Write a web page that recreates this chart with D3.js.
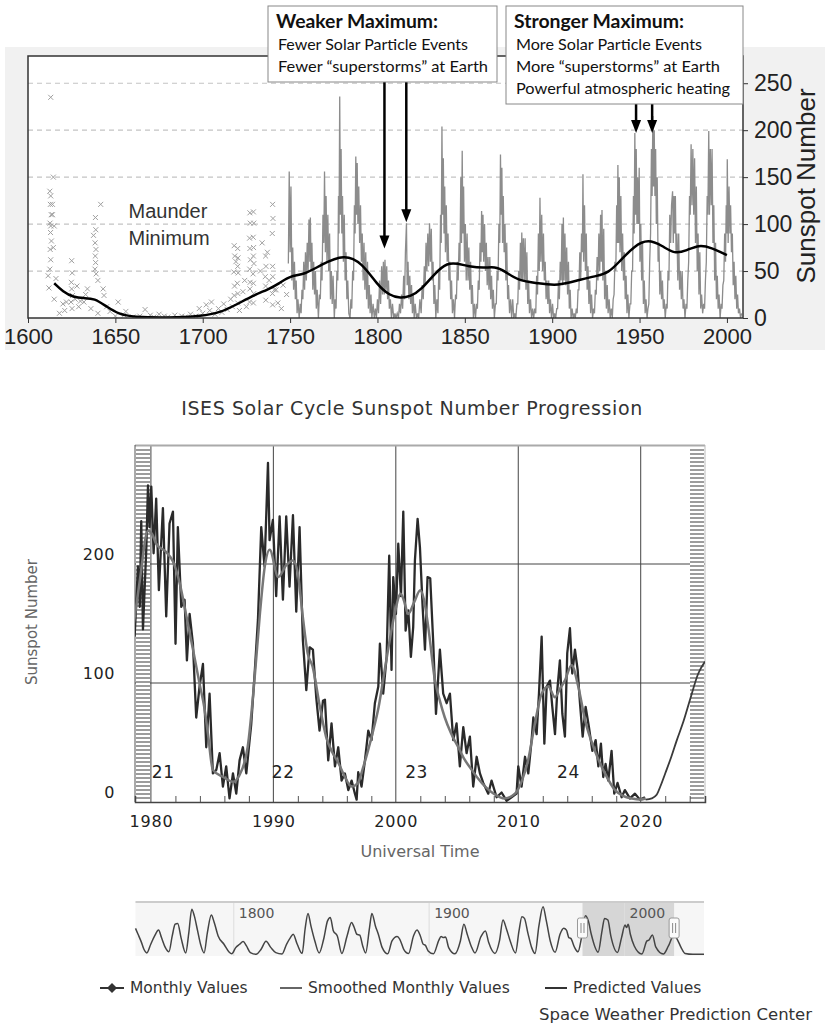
<!DOCTYPE html>
<html>
<head>
<meta charset="utf-8">
<script src="https://cdn.jsdelivr.net/npm/d3@7"></script>
<style>
body { margin: 0; background: #fff; }
svg { display: block; }
</style>
</head>
<body>
<svg id="chart" width="825" height="1028"></svg>
<script>
// ---- top chart (1600-2008) ----
var topXTicks = [1600, 1650, 1700, 1750, 1800, 1850, 1900, 1950, 2000];
var topYTicks = [0, 50, 100, 150, 200, 250];

var earlyCrosses = [
	[1613,235],[1614.5,150],[1612.5,135],[1613,130],[1612.8,121],[1613.3,110],[1612.6,101],[1613,98],[1612.9,91],[1613.4,82],
	[1612.7,73],[1613,62],[1612.5,52],[1614.5,75],[1614,121],[1616,42],[1612,32],[1611.5,45],[1615,20],[1618,5],[1614,110],[1615,98],
	[1625,61],[1625.3,48],[1624.8,38],[1625,31],[1625.5,24],[1624.6,17],[1625.2,10],[1628,34],[1634,31],[1627,20],[1630,18],
	[1622,17],[1620,15],[1632,17],[1633,25],[1629,12],[1621,8],[1636,10],[1640,5],
	[1638.6,107],[1638.8,94],[1638.4,80],[1638.9,73],[1638.5,66],[1638.7,59],[1638.3,52],[1639,47],[1641.6,121],[1643,31],
	[1643.5,24],[1640,40],[1637.5,88],[1651.6,17],[1647,7],[1645,12],
	[1650,2],[1655,3],[1656,7],[1660,1],[1664,2],[1667,9],[1670,3],[1672,1],[1675,4],[1678,2],[1680,1],[1684,3],[1688,2],
	[1690,1],[1693,4],[1696,2],[1698,10],[1700,5],[1702,14],[1704,8],[1705,17],[1707,4],[1709,10],[1711,6],[1712,15],[1714,9],
	[1718,77],[1718.3,66],[1717.8,49],[1718.2,34],[1718,24],[1719,60],[1716,20],[1717,12],[1720,74],[1720.2,64],[1720,55],
	[1720.3,48],[1719.8,37],[1720.1,26],[1720,16],[1721,8],
	[1727,112],[1727.2,101],[1726.8,85],[1727,74],[1727.3,62],[1726.9,52],[1727.1,38],[1727,31],[1726.8,17],[1729,113],
	[1729.2,101],[1728.9,86],[1729.1,75],[1729,66],[1729.3,58],[1728.8,47],[1729,37],[1729.2,26],[1729,16],[1724,40],[1723,28],[1725,12],
	[1736,66],[1736.2,55],[1735.8,44],[1736,34],[1736.1,19],[1734,80],[1740,121],[1740.2,106],[1739.8,90],[1740,55],[1740.1,44],
	[1739.9,26],[1740,14],[1742,30],[1743,16],[1745,10],[1733,50],[1738,40],[1746,35],[1748,25],[1737,70],[1741,30]
];

var monthlyTop = [
	[1749.0,58],[1749.5,156],[1750.0,70],[1750.5,140],[1751.0,40],[1751.5,75],[1752.0,30],[1752.5,60],[1753.0,20],[1753.5,40],
	[1754.0,5],[1754.5,20],[1755.2,0],[1755.8,15],[1756.3,5],[1756.8,30],[1757.3,20],[1757.8,60],[1758.3,30],[1758.8,70],
	[1759.3,40],[1759.8,80],[1760.3,50],[1760.8,105],[1761.3,60],[1761.6,107],[1762.0,50],[1762.5,80],[1763.0,30],[1763.5,60],
	[1764.0,25],[1764.5,50],[1765.0,10],[1765.5,30],[1766.2,0],[1766.8,25],[1767.3,20],[1767.8,60],[1768.3,40],[1768.8,110],
	[1769.3,80],[1769.7,156],[1770.2,70],[1770.6,130],[1771.1,60],[1771.6,110],[1772.1,50],[1772.6,90],[1773.1,20],[1773.6,50],
	[1774.1,15],[1774.6,45],[1775.3,0],[1775.8,20],[1776.3,10],[1776.8,50],[1777.3,40],[1777.7,130],[1778.0,90],[1778.4,236],
	[1778.8,110],[1779.2,180],[1779.6,90],[1780.0,130],[1780.5,60],[1781.0,110],[1781.5,40],[1782.0,70],[1782.5,20],[1783.0,40],
	[1783.6,5],[1784.3,0],[1784.8,20],[1785.3,10],[1785.8,50],[1786.3,40],[1786.8,120],[1787.2,90],[1787.6,172],[1788.0,110],
	[1788.4,165],[1788.8,100],[1789.3,140],[1789.8,80],[1790.3,120],[1790.8,60],[1791.3,90],[1791.8,40],[1792.3,80],[1792.8,30],
	[1793.3,70],[1793.8,20],[1794.3,60],[1794.8,10],[1795.3,35],[1795.8,5],[1796.3,25],[1796.8,0],[1797.5,15],[1798.2,0],
	[1798.8,10],[1799.4,0],[1800.0,20],[1800.6,5],[1801.2,40],[1801.8,15],[1802.4,55],[1802.9,25],[1803.4,60],[1803.9,25],
	[1804.3,62],[1804.8,30],[1805.3,55],[1805.8,20],[1806.3,40],[1806.8,10],[1807.4,20],[1808.0,0],[1808.6,15],[1809.3,0],
	[1810.0,5],[1810.6,0],[1811.3,5],[1812.0,0],[1812.6,15],[1813.2,5],[1813.8,25],[1814.4,10],[1815.0,45],[1815.5,20],
	[1816.0,70],[1816.6,101],[1817.0,35],[1817.5,60],[1818.0,20],[1818.5,45],[1819.0,15],[1819.5,35],[1820.0,5],[1820.5,25],
	[1821.0,0],[1821.6,15],[1822.3,0],[1823.0,5],[1823.6,0],[1824.3,20],[1825.0,5],[1825.6,35],[1826.2,20],[1826.8,55],
	[1827.3,35],[1827.8,80],[1828.3,50],[1828.8,90],[1829.3,55],[1829.8,101],[1830.3,60],[1830.8,95],[1831.3,40],[1831.8,60],
	[1832.3,15],[1832.8,35],[1833.4,0],[1834.0,20],[1834.6,5],[1835.1,50],[1835.6,30],[1836.1,110],[1836.5,80],[1836.9,204],
	[1837.3,110],[1837.7,170],[1838.1,90],[1838.5,140],[1838.9,70],[1839.4,120],[1839.9,60],[1840.4,90],[1840.9,40],[1841.4,60],
	[1841.9,20],[1842.4,40],[1842.9,5],[1843.5,20],[1844.1,0],[1844.7,25],[1845.2,20],[1845.7,60],[1846.2,40],[1846.7,80],
	[1847.2,60],[1847.7,150],[1848.1,80],[1848.5,178],[1848.9,90],[1849.3,140],[1849.8,60],[1850.3,100],[1850.8,40],[1851.3,90],
	[1851.8,40],[1852.3,75],[1852.8,30],[1853.3,60],[1853.8,15],[1854.3,35],[1854.9,0],[1855.5,15],[1856.1,0],[1856.7,15],
	[1857.2,10],[1857.7,40],[1858.2,30],[1858.7,80],[1859.2,60],[1859.6,114],[1860.0,70],[1860.4,110],[1860.8,60],[1861.3,100],
	[1861.8,50],[1862.3,80],[1862.8,35],[1863.3,65],[1863.8,30],[1864.3,65],[1864.8,20],[1865.3,45],[1865.8,10],[1866.3,30],
	[1866.9,0],[1867.5,15],[1868.0,15],[1868.5,50],[1869.0,40],[1869.5,100],[1870.0,80],[1870.4,174],[1870.8,110],[1871.2,160],
	[1871.6,80],[1872.0,130],[1872.5,70],[1873.0,100],[1873.5,40],[1874.0,80],[1874.5,20],[1875.0,35],[1875.6,5],[1876.2,20],
	[1876.8,0],[1877.4,20],[1878.0,0],[1878.6,5],[1879.2,0],[1879.8,15],[1880.3,15],[1880.8,50],[1881.3,30],[1881.8,80],
	[1882.3,40],[1882.6,91],[1883.0,40],[1883.5,85],[1884.0,40],[1884.5,85],[1885.0,30],[1885.5,70],[1886.0,15],[1886.5,40],
	[1887.0,5],[1887.6,20],[1888.2,0],[1888.8,10],[1889.4,0],[1890.0,10],[1890.6,5],[1891.1,45],[1891.6,25],[1892.1,90],
	[1892.6,50],[1893.0,128],[1893.5,60],[1894.0,110],[1894.5,50],[1895.0,90],[1895.5,40],[1896.0,60],[1896.5,20],[1897.0,40],
	[1897.5,15],[1898.0,40],[1898.5,5],[1899.0,20],[1899.6,0],[1900.2,15],[1900.8,0],[1901.4,5],[1902.0,0],[1902.6,10],
	[1903.1,10],[1903.6,40],[1904.1,20],[1904.6,60],[1905.1,40],[1905.6,100],[1906.0,35],[1906.4,107],[1906.8,40],[1907.3,90],
	[1907.8,35],[1908.3,75],[1908.8,25],[1909.3,60],[1909.8,10],[1910.3,30],[1910.8,0],[1911.4,10],[1912.0,0],[1912.6,5],
	[1913.2,0],[1913.8,10],[1914.3,5],[1914.8,30],[1915.3,30],[1915.8,70],[1916.3,40],[1916.8,90],[1917.3,70],[1917.6,153],
	[1918.0,60],[1918.5,120],[1919.0,50],[1919.5,90],[1920.0,30],[1920.5,55],[1921.0,15],[1921.5,40],[1922.0,5],[1922.5,25],
	[1923.1,0],[1923.7,10],[1924.2,5],[1924.7,30],[1925.2,25],[1925.7,65],[1926.2,40],[1926.7,90],[1927.2,50],[1927.7,110],
	[1928.1,60],[1928.5,115],[1929.0,40],[1929.5,95],[1930.0,20],[1930.5,50],[1931.0,10],[1931.5,35],[1932.0,5],[1932.6,20],
	[1933.2,0],[1933.8,10],[1934.4,0],[1934.9,20],[1935.4,25],[1935.9,60],[1936.4,50],[1936.9,120],[1937.3,80],[1937.6,163],
	[1938.0,80],[1938.4,150],[1938.8,70],[1939.3,130],[1939.8,50],[1940.3,90],[1940.8,40],[1941.3,70],[1941.8,20],[1942.3,45],
	[1942.8,5],[1943.3,25],[1943.9,0],[1944.5,15],[1945.0,15],[1945.5,50],[1946.0,50],[1946.5,130],[1946.9,90],[1947.3,197],
	[1947.7,110],[1948.1,180],[1948.5,100],[1948.9,150],[1949.3,100],[1949.8,160],[1950.2,60],[1950.7,100],[1951.2,40],[1951.7,80],
	[1952.2,15],[1952.7,40],[1953.2,5],[1953.7,20],[1954.3,0],[1954.8,10],[1955.3,15],[1955.8,60],[1956.3,90],[1956.8,180],
	[1957.2,130],[1957.6,215],[1958.0,140],[1958.4,200],[1958.8,130],[1959.2,180],[1959.6,100],[1960.1,150],[1960.6,60],[1961.1,80],
	[1961.6,25],[1962.1,50],[1962.6,20],[1963.1,40],[1963.6,10],[1964.1,20],[1964.7,0],[1965.3,15],[1965.8,10],[1966.3,50],
	[1966.8,40],[1967.3,110],[1967.8,80],[1968.3,120],[1968.9,135],[1969.3,80],[1969.7,130],[1970.1,90],[1970.5,130],[1970.9,70],
	[1971.4,90],[1971.9,40],[1972.4,90],[1972.9,30],[1973.4,50],[1973.9,20],[1974.4,50],[1974.9,10],[1975.4,20],[1976.0,0],
	[1976.6,15],[1977.1,10],[1977.6,40],[1978.1,60],[1978.6,130],[1979.0,110],[1979.5,185],[1980.0,120],[1980.5,180],[1981.0,110],
	[1981.5,170],[1982.0,80],[1982.5,140],[1983.0,50],[1983.5,90],[1984.0,25],[1984.5,70],[1985.0,10],[1985.5,25],[1986.1,5],
	[1986.7,15],[1987.2,10],[1987.7,40],[1988.2,60],[1988.7,130],[1989.1,110],[1989.6,199],[1990.0,110],[1990.5,180],[1991.0,120],
	[1991.5,180],[1992.0,80],[1992.5,120],[1993.0,40],[1993.5,80],[1994.0,20],[1994.5,45],[1995.0,10],[1995.5,25],[1996.1,0],
	[1996.7,15],[1997.2,10],[1997.7,35],[1998.2,40],[1998.7,90],[1999.2,60],[1999.6,120],[2000.0,90],[2000.2,169],[2000.7,80],
	[2001.2,140],[2001.7,90],[2002.1,120],[2002.6,70],[2003.1,90],[2003.6,35],[2004.1,60],[2004.6,20],[2005.1,45],[2005.6,10],
	[2006.1,25],[2006.6,5],[2007.2,10],[2007.8,0],[2008.4,5]
];

var smoothTop = [
	[1615,37],[1620,28],[1626,22],[1632,21],[1638,21],[1645,12],[1652,4],[1660,1],[1680,0],[1700,2],[1710,6],[1718,13],
	[1730,25],[1737,30],[1744,37],[1750,45],[1758,46],[1768,57],[1781,68],[1791,59],[1800,35],[1807,24],[1813,21],[1819,23],
	[1825,30],[1833,48],[1840,59],[1846,58],[1852,55],[1861,53],[1867,55],[1873,50],[1880,40],[1892,37],[1903,34],[1916,41],
	[1926,45],[1932,48],[1938,59],[1947,77],[1955,84],[1963,77],[1970,68],[1977,72],[1984,78],[1991,75],[2000,67]
];

var weakerLines = ["Weaker Maximum:", "Fewer Solar Particle Events", "Fewer \u201csuperstorms\u201d at Earth"];
var strongerLines = ["Stronger Maximum:", "More Solar Particle Events", "More \u201csuperstorms\u201d at Earth", "Powerful atmospheric heating"];
var weakerArrows = [[1804, 74], [1816.5, 102]];
var strongerArrows = [[1948, 197], [1957.2, 197]];

// ---- bottom chart (ISES progression) ----
var bottomXTicks = [1980, 1990, 2000, 2010, 2020];
var bottomMinorTicks = [1982, 1984, 1986, 1988, 1992, 1994, 1996, 1998, 2002, 2004, 2006, 2008, 2012, 2014, 2016, 2018, 2022, 2024];
var bottomYTicks = [0, 100, 200];

var monthlyValues = [
	[1978.67,139],[1978.94,198],[1979.09,164],[1979.21,236],[1979.35,145],[1979.62,212],[1979.76,266],[1979.89,231],[1980.03,265],
	[1980.22,209],[1980.43,255],[1980.65,178],[1980.98,247],[1981.25,156],[1981.52,234],[1981.80,244],[1982.01,133],[1982.20,231],
	[1982.48,164],[1982.75,170],[1982.94,119],[1983.16,158],[1983.43,133],[1983.70,71],[1983.97,97],[1984.25,116],[1984.52,46],
	[1984.79,91],[1985.06,24],[1985.34,27],[1985.61,41],[1985.88,13],[1986.15,30],[1986.42,3],[1986.70,24],[1986.97,7],
	[1987.24,35],[1987.51,46],[1987.79,24],[1988.06,52],[1988.19,65],[1988.47,108],[1988.74,153],[1989.01,231],[1989.28,198],
	[1989.56,285],[1989.69,220],[1989.96,237],[1990.23,173],[1990.51,240],[1990.78,170],[1991.05,240],[1991.32,181],[1991.60,241],
	[1991.87,160],[1992.14,231],[1992.41,136],[1992.69,94],[1992.96,130],[1993.23,128],[1993.50,88],[1993.77,60],[1994.05,85],
	[1994.21,86],[1994.48,35],[1994.75,66],[1995.03,30],[1995.30,46],[1995.57,18],[1995.84,24],[1996.12,10],[1996.39,18],
	[1996.66,7],[1996.80,2],[1996.93,25],[1997.20,13],[1997.48,35],[1997.75,60],[1998.02,52],[1998.29,83],[1998.57,97],
	[1998.70,133],[1998.97,91],[1999.25,122],[1999.46,207],[1999.65,111],[1999.79,189],[2000.01,158],[2000.20,217],[2000.42,173],
	[2000.61,244],[2000.80,144],[2001.02,161],[2001.23,122],[2001.42,147],[2001.56,203],[2001.78,238],[2001.97,214],[2002.19,164],
	[2002.38,128],[2002.59,189],[2002.81,188],[2003.06,133],[2003.28,74],[2003.60,128],[2003.87,91],[2004.15,83],[2004.42,91],
	[2004.69,52],[2004.96,66],[2005.23,30],[2005.51,63],[2005.78,41],[2006.05,55],[2006.32,13],[2006.60,38],[2006.87,24],
	[2007.14,16],[2007.55,7],[2007.82,18],[2008.23,4],[2008.64,8],[2009.05,1],[2009.45,4],[2009.86,7],
	[2010.00,30],[2010.27,13],[2010.55,38],[2010.82,24],[2011.09,52],[2011.23,71],[2011.50,57],[2011.69,91],[2011.91,139],
	[2012.13,49],[2012.32,97],[2012.59,102],[2012.78,80],[2013.00,57],[2013.19,94],[2013.40,119],[2013.60,74],[2013.81,55],
	[2014.00,125],[2014.22,146],[2014.41,108],[2014.63,128],[2014.85,111],[2015.04,83],[2015.26,55],[2015.50,80],[2015.77,63],
	[2016.05,43],[2016.32,52],[2016.54,30],[2016.75,49],[2016.94,21],[2017.13,32],[2017.35,18],[2017.62,43],[2017.84,7],
	[2018.11,16],[2018.44,4],[2018.71,10],[2019.12,3],[2019.53,7],[2019.94,2],[2020.35,4]
];

var smoothedValues = [
	[1978.6,150],[1979.09,186],[1979.76,228],[1980.1,225],[1980.43,217],[1981.25,210],[1981.8,202],[1982.3,186],[1982.9,156],
	[1983.4,130],[1984.0,98],[1984.35,80],[1984.66,57],[1985.06,27],[1985.9,21],[1986.7,17],[1987.2,22],[1987.9,46],[1988.5,108],
	[1988.9,158],[1989.3,198],[1989.7,212],[1990.4,189],[1991.05,199],[1991.6,203],[1992.0,192],[1992.4,156],[1992.8,125],
	[1993.2,114],[1993.8,80],[1994.3,55],[1994.8,42],[1995.3,33],[1995.8,22],[1996.4,13],[1996.9,16],[1997.3,28],[1997.75,44],
	[1998.2,62],[1998.6,80],[1999.0,105],[1999.4,130],[1999.9,158],[2000.4,175],[2000.7,168],[2001.0,158],[2001.5,168],
	[2002.0,178],[2002.3,170],[2002.65,147],[2003.2,102],[2003.6,85],[2004.0,71],[2004.5,58],[2005.1,46],[2005.6,36],[2006.2,27],
	[2006.7,20],[2007.3,13],[2008.0,7],[2008.9,3],[2009.73,7],[2010.3,18],[2010.8,35],[2011.36,66],[2011.91,91],[2012.45,97],
	[2013.0,88],[2013.4,95],[2013.8,102],[2014.36,115],[2014.9,97],[2015.45,69],[2016.26,43],[2017.08,24],[2017.9,10],
	[2018.6,5],[2019.26,3],[2019.9,2],[2020.4,3]
];

var predictedValues = [
	[2020.4,2],[2020.9,3],[2021.3,6],[2021.6,13],[2022.0,24],[2022.5,38],[2022.95,52],[2023.5,68],[2024.0,85],[2024.7,108],[2025.25,118]
];

var cycleLabels = [["21", 1981.0], ["22", 1990.8], ["23", 2001.7], ["24", 2014.1]];

// ---- navigator ----
var navTicks = [1800, 1900, 2000];
var navRange = [1978.5, 2025.4];
var navValues = [
	[1749.7,155],[1751,120],[1752.6,76],[1754,30],[1755.5,8],[1757.5,60],[1759.5,110],[1761.5,145],[1763,100],[1765,40],
	[1766.8,15],[1768.5,110],[1770,180],[1771.3,185],[1773,100],[1775.4,8],[1777,130],[1778.5,270],[1779.8,230],[1781.5,140],
	[1783,60],[1784.8,8],[1786.5,130],[1788.5,235],[1790,190],[1792,110],[1795,60],[1797.5,15],[1799,3],[1801,40],[1803,60],
	[1804.8,76],[1806.5,50],[1808.5,10],[1811.4,0],[1814,30],[1816.5,78],[1819,40],[1821.5,10],[1824.7,2],[1827,60],[1829,100],
	[1830.4,120],[1832.5,60],[1835,5],[1836.5,150],[1838,245],[1839.5,170],[1841.5,80],[1843.7,8],[1846,90],[1848,200],
	[1849.4,220],[1851,140],[1853,110],[1855.3,5],[1858,110],[1860.3,190],[1861.5,165],[1863,120],[1864.5,115],[1866,50],
	[1867.5,8],[1869.5,160],[1870.7,245],[1872.5,170],[1874,120],[1876,40],[1878.8,3],[1881,80],[1883.6,106],[1885,90],
	[1887,30],[1889.5,5],[1892,110],[1893.8,145],[1895.5,110],[1897,60],[1898,55],[1899.5,20],[1902.2,3],[1905,85],[1906.1,106],
	[1907.4,100],[1908.4,104],[1910,40],[1913.2,3],[1916,80],[1917.8,180],[1919.5,120],[1921.5,50],[1923.5,8],[1926.5,105],
	[1928.8,140],[1930.5,70],[1933.7,5],[1936,80],[1937.8,205],[1939.5,155],[1941.5,80],[1944.2,8],[1946,140],[1947.5,225],
	[1948.8,215],[1950.5,130],[1952.5,40],[1954.2,5],[1956.2,170],[1958.3,285],[1960,200],[1962,80],[1964.5,12],[1967,120],
	[1968.9,156],[1970.3,145],[1971.5,100],[1972.5,95],[1974.5,40],[1976.2,15],[1978,100],[1980,231],[1981.5,200],[1983,120],
	[1986.5,13],[1988.5,140],[1989.8,215],[1991.5,205],[1993,110],[1996.4,11],[1998.5,100],[2000.3,175],[2001,160],[2001.9,180],
	[2003,120],[2005,50],[2008.9,2],[2011.5,80],[2012.5,85],[2014.3,116],[2016,45],[2019.9,2],[2022.5,50],[2025.3,116],
	[2027,90],[2029,40],[2031,5],[2035,0],[2040.7,0]
];

var legendItems = ["Monthly Values", "Smoothed Monthly Values", "Predicted Values"];

var svg = d3.select("#chart");

// ================= top chart =================
var x1 = d3.scaleLinear().domain([1600, 2009.2]).range([28, 743]);
var y1 = d3.scaleLinear().domain([0, 279]).range([318, 56]);
var arialTop = "'Liberation Sans', Arial, sans-serif";

var gTop = svg.append("g");

gTop.append("rect").
attr("x", 5).attr("y", 47).attr("width", 820).attr("height", 303).
attr("fill", "#f1f1f1");

gTop.append("rect").
attr("x", 28).attr("y", 56).attr("width", 715).attr("height", 262).
attr("fill", "#fff");

gTop.selectAll("line.grid").
data(topYTicks.filter(function (d) {return d > 0;})).
enter().
append("line").
attr("class", "grid").
attr("x1", 28).attr("x2", 743).
attr("y1", function (d) {return y1(d);}).
attr("y2", function (d) {return y1(d);}).
attr("stroke", "#c4c4c4").
attr("stroke-width", 1.2).
attr("stroke-dasharray", "5,4");

gTop.append("defs").append("clipPath").attr("id", "clipTop").
append("rect").attr("x", 28).attr("y", 56).attr("width", 715).attr("height", 262);

var plotTop = gTop.append("g").attr("clip-path", "url(#clipTop)");

plotTop.selectAll("path.cross").
data(earlyCrosses).
enter().
append("path").
attr("class", "cross").
attr("d", "M-2.5,-2.5L2.5,2.5M-2.5,2.5L2.5,-2.5").
attr("transform", function (d) {return "translate(" + x1(d[0]) + "," + y1(d[1]) + ")";}).
attr("stroke", "#a0a0a0").
attr("stroke-width", 1).
attr("fill", "none");

plotTop.append("path").
datum(monthlyTop).
attr("d", d3.line().x(function (d) {return x1(d[0]);}).y(function (d) {return y1(d[1]);})).
attr("fill", "none").
attr("stroke", "#8c8c8c").
attr("stroke-width", 1.3);

plotTop.append("path").
datum(smoothTop).
attr("d", d3.line().curve(d3.curveBasis).x(function (d) {return x1(d[0]);}).y(function (d) {return y1(d[1]);})).
attr("fill", "none").
attr("stroke", "#000").
attr("stroke-width", 2.5);

gTop.append("rect").
attr("x", 28).attr("y", 56).attr("width", 715).attr("height", 262).
attr("fill", "none").
attr("stroke", "#333").
attr("stroke-width", 1.5);

var xAxisTop = d3.axisBottom(x1).tickValues(topXTicks).tickFormat(d3.format("d")).tickSize(5).tickPadding(5);
var gx1 = gTop.append("g").attr("transform", "translate(0,318)").call(xAxisTop);
gx1.select(".domain").remove();
gx1.selectAll("line").attr("stroke", "#333");
gx1.selectAll("text").attr("font-family", arialTop).attr("font-size", 22).attr("fill", "#222");

var yAxisTop = d3.axisRight(y1).tickValues(topYTicks).tickSize(5).tickPadding(6);
var gy1 = gTop.append("g").attr("transform", "translate(743,0)").call(yAxisTop);
gy1.select(".domain").remove();
gy1.selectAll("line").attr("stroke", "#333");
gy1.selectAll("text").attr("font-family", arialTop).attr("font-size", 23).attr("fill", "#222");

gTop.append("text").
attr("transform", "translate(815,186) rotate(-90)").
attr("text-anchor", "middle").
attr("font-family", arialTop).
attr("font-size", 26).
attr("fill", "#222").
text("Sunspot Number");

var maunder = gTop.append("text").
attr("font-family", arialTop).
attr("font-size", 20).
attr("fill", "#333");
maunder.append("tspan").attr("x", x1(1657.5)).attr("y", y1(106)).text("Maunder");
maunder.append("tspan").attr("x", x1(1657.5)).attr("y", y1(78)).text("Minimum");

function drawArrows(list, yStart) {
	list.forEach(function (a) {
		var ax = x1(a[0]);
		var ay = y1(a[1]);
		gTop.append("line").
		attr("x1", ax).attr("x2", ax).
		attr("y1", yStart).attr("y2", ay - 10).
		attr("stroke", "#000").
		attr("stroke-width", 2.5);
		gTop.append("path").
		attr("d", "M" + (ax - 5) + "," + (ay - 13) + "L" + (ax + 5) + "," + (ay - 13) + "L" + ax + "," + ay + "Z").
		attr("fill", "#000");
	});
}

function drawBox(bx, by, bw, bh, lines, lens) {
	gTop.append("rect").
	attr("x", bx).attr("y", by).attr("width", bw).attr("height", bh).
	attr("fill", "#fff").
	attr("stroke", "#888").
	attr("stroke-width", 1);
	lines.forEach(function (t, i) {
		gTop.append("text").
		attr("x", bx + (i === 0 ? 8 : 10)).
		attr("y", by + 22 + i * 22).
		attr("font-family", "Lato, 'Open Sans', sans-serif").
		attr("font-size", i === 0 ? 18 : 15).
		attr("font-weight", i === 0 ? "bold" : "normal").
		attr("fill", "#111").
		attr("textLength", lens[i]).
		attr("lengthAdjust", "spacingAndGlyphs").
		text(t);
	});
}

drawArrows(weakerArrows, 82);
drawArrows(strongerArrows, 104);
drawBox(268, 6, 229, 76, weakerLines, [162, 190, 210]);
drawBox(506, 6, 237, 98, strongerLines, [170, 186, 204, 214]);

// ================= bottom chart =================
var font2 = "'DejaVu Sans', sans-serif";
var x2 = d3.scaleLinear().domain([1978.7, 2025.25]).range([135, 705]);
var y2 = d3.scaleLinear().domain([0, 300]).range([802, 445]);

var gBot = svg.append("g");

gBot.append("text").
attr("x", 412).attr("y", 415).
attr("text-anchor", "middle").
attr("font-family", font2).
attr("font-size", 19).
attr("letter-spacing", 0.6).
attr("fill", "#333").
text("ISES Solar Cycle Sunspot Number Progression");

var defs = gBot.append("defs");
var pat = defs.append("pattern").
attr("id", "hatch").
attr("patternUnits", "userSpaceOnUse").
attr("width", 20).attr("height", 4);
pat.append("rect").attr("width", 20).attr("height", 4).attr("fill", "#fff");
pat.append("line").attr("x1", 0).attr("x2", 20).attr("y1", 2).attr("y2", 2).attr("stroke", "#666").attr("stroke-width", 1.3);

defs.append("clipPath").attr("id", "clipBot").
append("rect").attr("x", 135).attr("y", 445).attr("width", 570).attr("height", 357);

gBot.selectAll("line.vgrid").
data(bottomXTicks).
enter().
append("line").
attr("class", "vgrid").
attr("x1", function (d) {return x2(d);}).
attr("x2", function (d) {return x2(d);}).
attr("y1", 445).attr("y2", 802).
attr("stroke", "#444").
attr("stroke-width", 1);

gBot.selectAll("line.hgrid").
data(bottomYTicks.filter(function (d) {return d > 0;})).
enter().
append("line").
attr("class", "hgrid").
attr("x1", 135).attr("x2", 705).
attr("y1", function (d) {return y2(d);}).
attr("y2", function (d) {return y2(d);}).
attr("stroke", "#444").
attr("stroke-width", 1);

gBot.append("rect").attr("x", 136).attr("y", 447).attr("width", 14).attr("height", 353).attr("fill", "url(#hatch)");
gBot.append("rect").attr("x", 690).attr("y", 448).attr("width", 14).attr("height", 352).attr("fill", "url(#hatch)");

gBot.append("line").attr("x1", 135).attr("x2", 705).attr("y1", 445.5).attr("y2", 445.5).attr("stroke", "#aaa").attr("stroke-width", 2);
gBot.append("line").attr("x1", 135).attr("x2", 135).attr("y1", 445).attr("y2", 802).attr("stroke", "#555").attr("stroke-width", 1);
gBot.append("line").attr("x1", 705).attr("x2", 705).attr("y1", 445).attr("y2", 802).attr("stroke", "#bbb").attr("stroke-width", 1);

var plotBot = gBot.append("g").attr("clip-path", "url(#clipBot)");
var lineBot = d3.line().x(function (d) {return x2(d[0]);}).y(function (d) {return y2(d[1]);});

plotBot.append("path").
datum(monthlyValues).
attr("d", lineBot).
attr("fill", "none").
attr("stroke", "#2a2a2a").
attr("stroke-width", 2.3).
attr("stroke-linejoin", "round");

plotBot.append("path").
datum(smoothedValues).
attr("d", lineBot.curve(d3.curveMonotoneX)).
attr("fill", "none").
attr("stroke", "#777").
attr("stroke-width", 2.5);

plotBot.append("path").
datum(predictedValues).
attr("d", lineBot.curve(d3.curveMonotoneX)).
attr("fill", "none").
attr("stroke", "#3a3a3a").
attr("stroke-width", 1.8);

var minorAxis = d3.axisBottom(x2).tickValues(bottomMinorTicks).tickSize(-6).tickFormat("");
var gMinor = gBot.append("g").attr("transform", "translate(0,802)").call(minorAxis);
gMinor.select(".domain").attr("stroke", "#444").attr("stroke-width", 1.5);
gMinor.selectAll("line").attr("stroke", "#555");

var xAxisBot = d3.axisBottom(x2).tickValues(bottomXTicks).tickFormat(d3.format("d")).tickSize(0).tickPadding(14);
var gx2 = gBot.append("g").attr("transform", "translate(0,802)").call(xAxisBot);
gx2.select(".domain").remove();
gx2.selectAll("text").attr("font-family", font2).attr("font-size", 16).attr("letter-spacing", 0.8).attr("fill", "#222");

var yAxisBot = d3.axisLeft(y2).tickValues(bottomYTicks).tickSize(0).tickPadding(20);
var gy2 = gBot.append("g").attr("transform", "translate(135,0)").call(yAxisBot);
gy2.select(".domain").remove();
gy2.selectAll("text").attr("y", -10).attr("font-family", font2).attr("font-size", 16).attr("letter-spacing", 0.6).attr("fill", "#222");

gBot.append("text").
attr("transform", "translate(37,622) rotate(-90)").
attr("text-anchor", "middle").
attr("font-family", font2).
attr("font-size", 15).
attr("fill", "#666").
text("Sunspot Number");

gBot.append("text").
attr("x", 420).attr("y", 857).
attr("text-anchor", "middle").
attr("font-family", font2).
attr("font-size", 16).
attr("fill", "#666").
text("Universal Time");

gBot.selectAll("text.cycle").
data(cycleLabels).
enter().
append("text").
attr("class", "cycle").
attr("x", function (d) {return x2(d[1]);}).
attr("y", y2(20)).
attr("text-anchor", "middle").
attr("font-family", font2).
attr("font-size", 17).
attr("letter-spacing", 0.6).
attr("fill", "#222").
text(function (d) {return d[0];});

// ================= navigator =================
var x3 = d3.scaleLinear().domain([1749.7, 2040.7]).range([135.5, 704]);
var y3 = d3.scaleLinear().domain([0, 285]).range([954.3, 906.7]);
var gNav = svg.append("g");

gNav.append("rect").attr("x", 135.5).attr("y", 902).attr("width", 568.5).attr("height", 54).attr("fill", "#f6f6f6");
gNav.append("rect").
attr("x", x3(navRange[0])).attr("y", 902).
attr("width", x3(navRange[1]) - x3(navRange[0])).attr("height", 54).
attr("fill", "#d6d6d6");

gNav.selectAll("line.ngrid").
data(navTicks).
enter().
append("line").
attr("class", "ngrid").
attr("x1", function (d) {return x3(d);}).
attr("x2", function (d) {return x3(d);}).
attr("y1", 902).attr("y2", 956).
attr("stroke", "#ddd").
attr("stroke-width", 1);

gNav.selectAll("text.ntick").
data(navTicks).
enter().
append("text").
attr("class", "ntick").
attr("x", function (d) {return x3(d) + 5;}).
attr("y", 918).
attr("font-family", font2).
attr("font-size", 14).
attr("fill", "#555").
text(function (d) {return d;});

gNav.append("line").attr("x1", 135.5).attr("x2", 704).attr("y1", 902).attr("y2", 902).attr("stroke", "#ccc").attr("stroke-width", 2);

gNav.append("path").
datum(navValues).
attr("d", d3.line().curve(d3.curveMonotoneX).x(function (d) {return x3(d[0]);}).y(function (d) {return y3(d[1]);})).
attr("fill", "none").
attr("stroke", "#444").
attr("stroke-width", 1.5);

navRange.forEach(function (r) {
	var hx = x3(r);
	gNav.append("rect").
	attr("x", hx - 5).attr("y", 918).attr("width", 10).attr("height", 20).attr("rx", 2).
	attr("fill", "#fafafa").attr("stroke", "#999").attr("stroke-width", 1);
	gNav.append("path").
	attr("d", "M" + (hx - 1.5) + ",923V933M" + (hx + 1.5) + ",923V933").
	attr("stroke", "#888").attr("stroke-width", 1);
});

// ================= legend =================
var gLeg = svg.append("g").attr("font-family", font2).attr("font-size", 15.5).attr("fill", "#333");
var legX = [100, 280, 545];
var legW = [24, 22, 22];

legendItems.forEach(function (t, i) {
	gLeg.append("line").
	attr("x1", legX[i]).attr("x2", legX[i] + legW[i]).
	attr("y1", 988).attr("y2", 988).
	attr("stroke", i === 1 ? "#666" : "#333").
	attr("stroke-width", 2);
	gLeg.append("text").attr("x", legX[i] + legW[i] + 6).attr("y", 993).text(t);
});
gLeg.append("path").attr("d", "M112,983L117,988L112,993L107,988Z").attr("fill", "#333");

gLeg.append("text").
attr("x", 812).attr("y", 1020).
attr("text-anchor", "end").
attr("font-size", 16.5).
text("Space Weather Prediction Center");
</script>
</body>
</html>
